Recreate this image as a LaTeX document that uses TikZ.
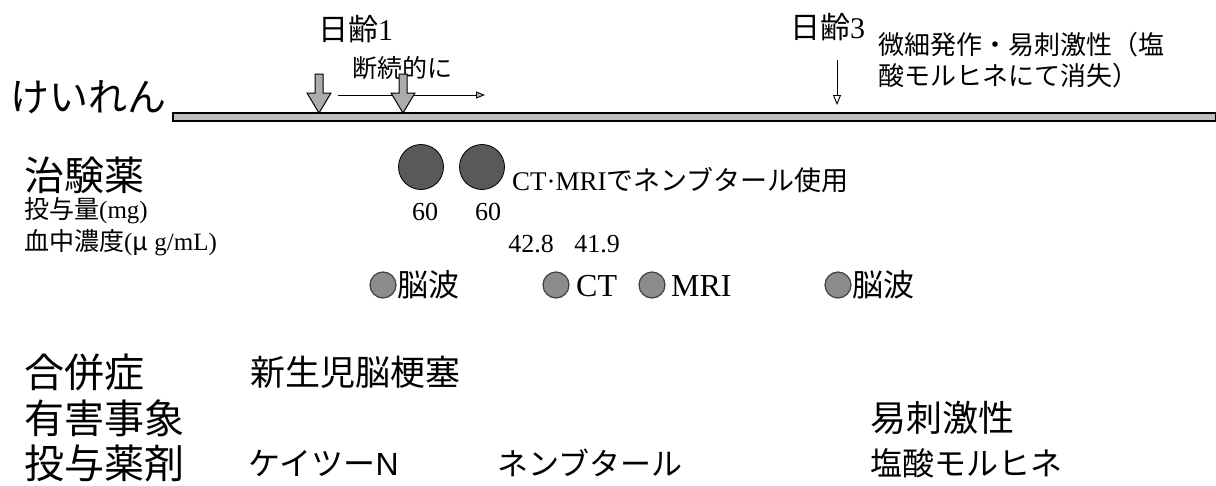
\documentclass[tikz,border=0pt]{standalone}
\usepackage{fontspec}
\setmainfont{Liberation Serif}
\newfontfamily\jp{Noto Sans CJK JP}
\newfontfamily\sansf{Liberation Sans}
\usetikzlibrary{arrows.meta}
\tikzset{
  lbl/.style={inner sep=0pt, anchor=west},
  blockarrow/.style={fill=gray!65, draw=black, line width=1pt, line join=miter},
  thinarrow/.style={line width=0.9pt},
  bigdot/.style={circle, fill=gray!70!black, draw=black, line width=0.8pt, minimum size=45pt, inner sep=0pt},
  smalldot/.style={circle, fill=gray!90, draw=black!75, line width=1.2pt, minimum size=26pt, inner sep=0pt},
  timeline/.style={fill=gray!50, draw=black, line width=1.2pt},
}
\begin{document}
\begin{tikzpicture}[x=1pt, y=-1pt]
\useasboundingbox (0,0) rectangle (1216,485);

% timeline
\draw[timeline] (173,113) rectangle (1216,121);
\node[lbl, font=\jp\fontsize{39}{42}\selectfont] (keiren) at (10,97) {けいれん};

% day 1
\node[lbl, font=\fontsize{30}{34}\selectfont] (d1) at (318,29) {{\jp 日齢}1};
\node[lbl, font=\jp\fontsize{25}{28}\selectfont] (dan) at (352,68) {断続的に};
\coordinate (t1s) at (338,95);
\coordinate (t1e) at (485,95);
\draw[thinarrow, -{Triangle[length=9pt, width=7pt, fill=gray!60]}] (t1s) -- (t1e);
\coordinate (a1) at (319,113);
\coordinate (a2) at (403,113);
\draw[blockarrow] (a1) -- ++(12,-20) -- ++(-8,0) -- ++(0,-19) -- ++(-8,0) -- ++(0,19) -- ++(-8,0) -- cycle;
\draw[blockarrow] (a2) -- ++(12,-20) -- ++(-8,0) -- ++(0,-19) -- ++(-8,0) -- ++(0,19) -- ++(-8,0) -- cycle;

% day 3
\node[lbl, font=\fontsize{30}{34}\selectfont] (d3) at (790,27) {{\jp 日齢}3};
\coordinate (t3s) at (837,60);
\coordinate (t3e) at (837,105);
\draw[thinarrow, -{Triangle[open, length=10pt, width=8pt]}] (t3s) -- (t3e);
\node[lbl, font=\jp\fontsize{26}{28}\selectfont] (bis1) at (878,45) {微細発作・易刺激性（塩};
\node[lbl, font=\jp\fontsize{26}{28}\selectfont] (bis2) at (878,76) {酸モルヒネにて消失）};

% study drug
\node[lbl, font=\jp\fontsize{40}{44}\selectfont] (chiken) at (24,175) {治験薬};
\node[lbl, font=\fontsize{25}{28}\selectfont] (dose) at (24,211) {{\jp 投与量}(mg)};
\node[lbl, font=\fontsize{25}{28}\selectfont] (conc) at (24,243) {{\jp 血中濃度}({\jp μ} g/mL)};
\node[bigdot] (dot1) at (421,167) {};
\node[bigdot] (dot2) at (482,167) {};
\node[lbl, font=\fontsize{27}{30}\selectfont] (ctmri) at (512,180) {CT·MRI{\jp でネンブタール使用}};
\node[font=\fontsize{26}{28}\selectfont, inner sep=0pt] (v1) at (425,212) {60};
\node[font=\fontsize{26}{28}\selectfont, inner sep=0pt] (v2) at (488,212) {60};
\node[font=\fontsize{26}{28}\selectfont, inner sep=0pt] (c1) at (531,244) {42.8};
\node[font=\fontsize{26}{28}\selectfont, inner sep=0pt] (c2) at (597,244) {41.9};

% exams
\node[smalldot] (e1) at (383,285) {};
\node[lbl, font=\jp\fontsize{31}{34}\selectfont] (eeg1) at (397,285) {脳波};
\node[smalldot] (e2) at (556,285) {};
\node[lbl, font=\fontsize{32}{34}\selectfont] (ct) at (576,286) {CT};
\node[smalldot] (e3) at (652,285) {};
\node[lbl, font=\fontsize{32}{34}\selectfont] (mri) at (671,286) {MRI};
\node[smalldot] (e4) at (838,285) {};
\node[lbl, font=\jp\fontsize{31}{34}\selectfont] (eeg2) at (852,285) {脳波};

% bottom rows
\node[lbl, font=\jp\fontsize{40}{44}\selectfont] (gappei) at (24,372) {合併症};
\node[lbl, font=\jp\fontsize{35}{38}\selectfont] (shinsei) at (250,372) {新生児脳梗塞};
\node[lbl, font=\jp\fontsize{40}{44}\selectfont] (yugai) at (24,418) {有害事象};
\node[lbl, font=\jp\fontsize{36}{38}\selectfont] (ishi) at (870,418) {易刺激性};
\node[lbl, font=\jp\fontsize{40}{44}\selectfont] (toyo) at (24,463) {投与薬剤};
\node[lbl, font=\jp\fontsize{32}{36}\selectfont] (keitsu) at (248,463) {ケイツー{\sansf N}};
\node[lbl, font=\jp\fontsize{31}{36}\selectfont] (nembu) at (497,463) {ネンブタール};
\node[lbl, font=\jp\fontsize{32}{36}\selectfont] (morph) at (870,463) {塩酸モルヒネ};
\end{tikzpicture}
\end{document}
